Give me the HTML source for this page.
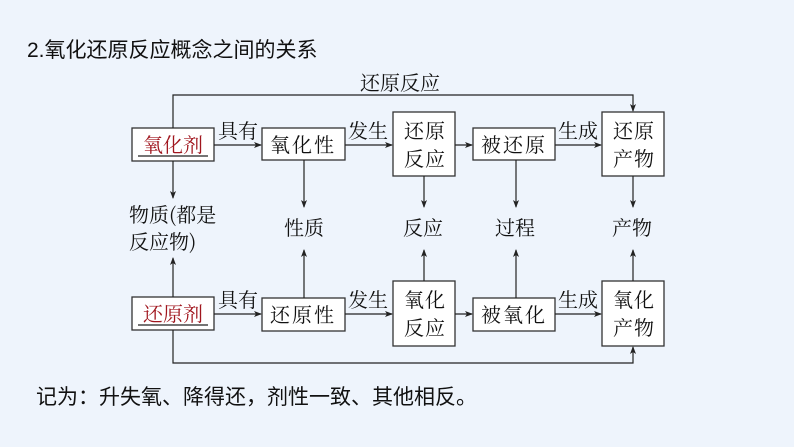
<!DOCTYPE html>
<html><head><meta charset="utf-8"><style>
html,body{margin:0;padding:0;background:#eef4fc;}
svg{display:block}
.s{font-family:"Noto Serif CJK SC","Liberation Serif",serif;font-size:20px;fill:#111}
.h{font-family:"Liberation Sans","Noto Sans CJK SC",sans-serif;font-size:21px;fill:#111}
.r{fill:#a0161e}
</style></head><body>
<svg width="794" height="447" viewBox="0 0 794 447">
<defs><marker id="a" markerWidth="8" markerHeight="8" refX="7" refY="4" orient="auto" markerUnits="userSpaceOnUse"><path d="M0,1 L8,4 L0,7 L2,4z" fill="#222"/></marker></defs>
<text class="h" x="27" y="57">2.氧化还原反应概念之间的关系</text>
<text class="h" x="36" y="404">记为：升失氧、降得还，剂性一致、其他相反。</text>
<g fill="#fff" stroke="#333" stroke-width="1.3">
<rect x="132" y="128" width="82" height="33"/>
<rect x="262" y="128" width="83" height="32"/>
<rect x="393" y="112" width="62" height="64"/>
<rect x="473" y="128" width="82" height="32"/>
<rect x="602" y="112" width="62" height="64"/>
<rect x="132" y="297" width="82" height="33"/>
<rect x="262" y="298" width="83" height="33"/>
<rect x="393" y="281" width="62" height="65"/>
<rect x="473" y="298" width="82" height="33"/>
<rect x="602" y="281" width="62" height="65"/>
</g>
<g stroke="#222" stroke-width="1.2" fill="none">
<polyline points="173,128 173,95 633,95 633,111" marker-end="url(#a)"/>
<polyline points="173,330 173,363 633,363 633,347" marker-end="url(#a)"/>
<line x1="214" y1="145" x2="261" y2="145" marker-end="url(#a)"/>
<line x1="345" y1="145" x2="392" y2="145" marker-end="url(#a)"/>
<line x1="455" y1="145" x2="472" y2="145" marker-end="url(#a)"/>
<line x1="555" y1="145" x2="601" y2="145" marker-end="url(#a)"/>
<line x1="214" y1="314" x2="261" y2="314" marker-end="url(#a)"/>
<line x1="345" y1="314" x2="392" y2="314" marker-end="url(#a)"/>
<line x1="455" y1="314" x2="472" y2="314" marker-end="url(#a)"/>
<line x1="555" y1="314" x2="601" y2="314" marker-end="url(#a)"/>
<line x1="173" y1="161" x2="173" y2="198" marker-end="url(#a)"/>
<line x1="173" y1="297" x2="173" y2="258" marker-end="url(#a)"/>
<line x1="304" y1="160" x2="304" y2="207" marker-end="url(#a)"/>
<line x1="304" y1="298" x2="304" y2="250" marker-end="url(#a)"/>
<line x1="424" y1="176" x2="424" y2="207" marker-end="url(#a)"/>
<line x1="424" y1="281" x2="424" y2="250" marker-end="url(#a)"/>
<line x1="516" y1="160" x2="516" y2="207" marker-end="url(#a)"/>
<line x1="516" y1="298" x2="516" y2="250" marker-end="url(#a)"/>
<line x1="633" y1="176" x2="633" y2="207" marker-end="url(#a)"/>
<line x1="633" y1="281" x2="633" y2="250" marker-end="url(#a)"/>
<line x1="138" y1="156" x2="208" y2="156"/>
<line x1="138" y1="325" x2="208" y2="325"/>
</g>
<g class="s">
<text x="360" y="90">还原反应</text>
<text class="s r" x="143" y="152">氧化剂</text>
<text class="s r" x="143" y="321">还原剂</text>
<text x="218" y="138">具有</text>
<text x="218" y="307">具有</text>
<text x="348" y="138">发生</text>
<text x="348" y="307">发生</text>
<text x="558" y="138">生成</text>
<text x="558" y="307">生成</text>
<text x="270" y="152" letter-spacing="2">氧化性</text>
<text x="270" y="322" letter-spacing="2">还原性</text>
<text x="481" y="152" letter-spacing="2">被还原</text>
<text x="481" y="322" letter-spacing="2">被氧化</text>
<text x="404" y="138" letter-spacing="1">还原</text>
<text x="404" y="166" letter-spacing="1">反应</text>
<text x="404" y="307" letter-spacing="1">氧化</text>
<text x="404" y="335" letter-spacing="1">反应</text>
<text x="613" y="138" letter-spacing="1">还原</text>
<text x="613" y="166" letter-spacing="1">产物</text>
<text x="613" y="307" letter-spacing="1">氧化</text>
<text x="613" y="335" letter-spacing="1">产物</text>
<text x="129" y="222">物质(都是</text>
<text x="129" y="249">反应物)</text>
<text x="284" y="235">性质</text>
<text x="403" y="235">反应</text>
<text x="495" y="235">过程</text>
<text x="612" y="235">产物</text>
</g>
</svg>
</body></html>
